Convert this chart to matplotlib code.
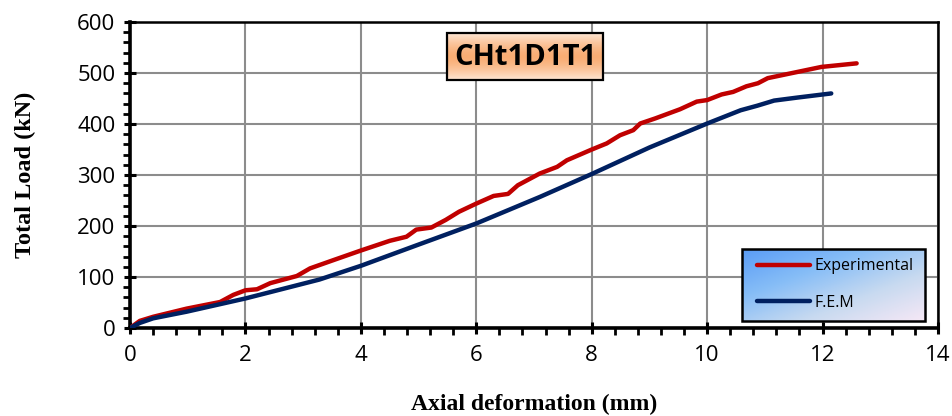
import numpy as np
import matplotlib
matplotlib.use("Agg")
import matplotlib.pyplot as plt
from matplotlib.patches import Rectangle
from matplotlib.ticker import MultipleLocator

# Dados
exp_x = [0, 0.17, 0.4, 0.98, 1.56, 1.79, 2.0, 2.2, 2.43, 2.89, 3.12, 3.52, 4.0,
         4.5, 4.79, 4.96, 5.22, 5.47, 5.7, 6.0, 6.3, 6.55, 6.72, 7.1, 7.4, 7.57,
         8.0, 8.26, 8.49, 8.72, 8.84, 9.1, 9.53, 9.82, 10.0, 10.25, 10.45, 10.68,
         10.88, 11.05, 11.43, 11.98, 12.59]
exp_y = [0, 14, 22, 38, 51, 65, 74, 76, 88, 102, 117, 133, 152,
         171, 179, 193, 197, 212, 228, 244, 259, 263, 280, 303, 316, 329,
         350, 362, 378, 388, 401, 411, 429, 444, 447, 458, 463, 474,
         480, 490, 499, 512, 519]

fem_x = [0, 0.17, 0.4, 0.98, 2.0, 3.28, 4.0, 4.96, 6.0, 7.1, 8.0, 9.0, 10.0,
         10.58, 10.87, 11.16, 11.57, 12.15]
fem_y = [0, 10, 19, 32, 58, 95, 122, 162, 205, 257, 302, 354, 401,
         427, 436, 446, 452, 460]

serie_nomes = ["Experimental", "F.E.M"]
titulo = "CHt1D1T1"

fig = plt.figure(figsize=(9.52, 4.16), dpi=100)
ax = fig.add_axes([0.1366, 0.2115, 0.8487, 0.7355])

ax.plot(exp_x, exp_y, color="#c00000", linewidth=3.2, solid_capstyle="round",
        solid_joinstyle="round", label=serie_nomes[0], zorder=4)
ax.plot(fem_x, fem_y, color="#002060", linewidth=3.2, solid_capstyle="round",
        solid_joinstyle="round", label=serie_nomes[1], zorder=4)

ax.set_xlim(0, 14)
ax.set_ylim(0, 600)
ax.xaxis.set_major_locator(MultipleLocator(2))
ax.xaxis.set_minor_locator(MultipleLocator(0.4))
ax.yaxis.set_major_locator(MultipleLocator(100))
ax.yaxis.set_minor_locator(MultipleLocator(20))
ax.grid(which="major", color="#8c8c8c", linewidth=1.5)
ax.set_axisbelow(True)

ax.tick_params(which="major", direction="inout", length=9, width=2.2,
               labelsize=16, pad=6)
ax.tick_params(which="minor", direction="out", length=5, width=2)
for lbl in ax.get_xticklabels() + ax.get_yticklabels():
    lbl.set_fontfamily("Open Sans")
ax.tick_params(axis="x", pad=8)

for lado in ["left", "bottom"]:
    ax.spines[lado].set_linewidth(2.6)
for lado in ["top", "right"]:
    ax.spines[lado].set_linewidth(1.8)

ax.set_xlabel("Axial deformation (mm)", fontfamily="Liberation Serif",
              fontweight="bold", fontsize=17, labelpad=20)
ax.set_ylabel("Total Load (kN)", fontfamily="Liberation Serif",
              fontweight="bold", fontsize=17.5, labelpad=30)

# Caixa do título com degradê laranja
grad = np.abs(np.linspace(-1, 1, 64))[:, None] ** 1.5
cmap_lar = matplotlib.colors.LinearSegmentedColormap.from_list(
    "lar", ["#f9ad74", "#fde6d4"])
ax.imshow(grad, extent=(5.49, 8.2, 486, 578), aspect="auto", cmap=cmap_lar,
          zorder=5)
ax.add_patch(Rectangle((5.49, 486), 8.2 - 5.49, 578 - 486, fill=False,
                       edgecolor="black", linewidth=1.6, zorder=6))
ax.text(6.845, 530, titulo, ha="center", va="center", fontsize=21,
        fontweight="bold", fontfamily="Open Sans", zorder=7)

# Legenda com fundo em degradê azul
gx, gy = np.meshgrid(np.linspace(0, 1, 64), np.linspace(0, 1, 64))
cmap_az = matplotlib.colors.LinearSegmentedColormap.from_list(
    "az", ["#5a9cf5", "#86bdf7", "#c8daf0", "#f6e8f6"])
ax.imshow((gx + gy) / 2, extent=(10.6, 13.78, 14, 154), aspect="auto",
          cmap=cmap_az, origin="upper", zorder=5)
ax.add_patch(Rectangle((10.6, 14), 13.78 - 10.6, 154 - 14, fill=False,
                       edgecolor="black", linewidth=1.8, zorder=6))
leg = ax.legend(loc="center", bbox_to_anchor=(0.873, 0.142), frameon=False,
                prop={"family": "Open Sans", "size": 11.5}, handlelength=3.3,
                labelspacing=1.3, handletextpad=0.25)
leg.set_zorder(8)

fig.savefig("out.png", dpi=100, facecolor="white")
